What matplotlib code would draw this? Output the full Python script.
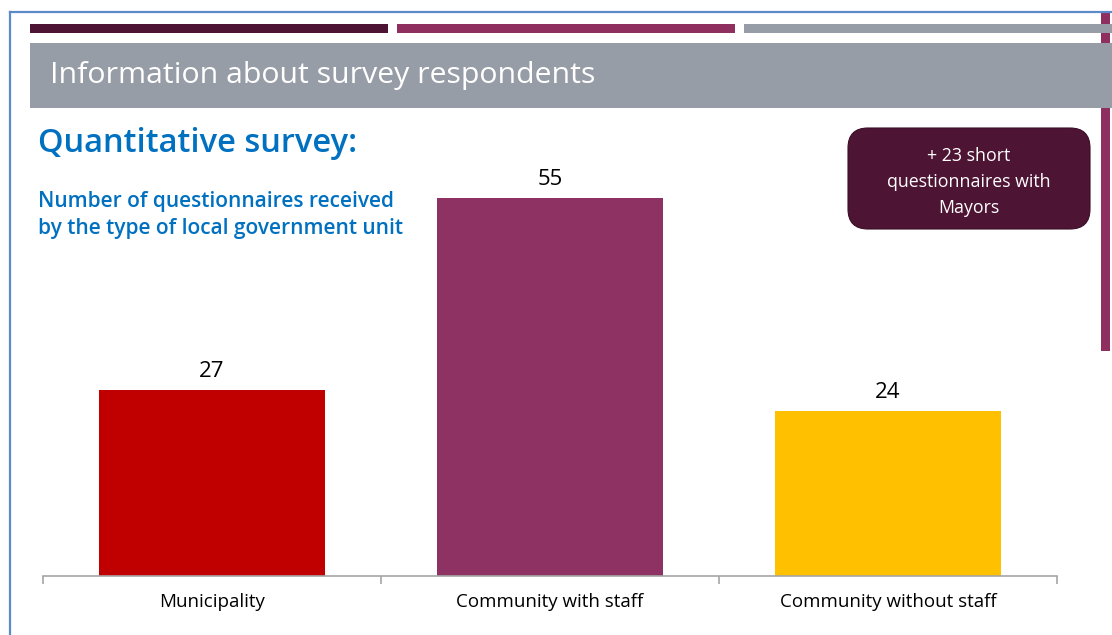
import matplotlib.pyplot as plt
from matplotlib.patches import Rectangle, FancyBboxPatch
from matplotlib.lines import Line2D

categories = ["Municipality", "Community with staff", "Community without staff"]
counts = [27, 55, 24]
bar_colors = ["#C00000", "#8E3163", "#FFC000"]

title_text = "Information about survey respondents"
heading = "Quantitative survey:"
subheading = "Number of questionnaires received\nby the type of local government unit"
note = "+ 23 short\nquestionnaires with\nMayors"

plt.rcParams['font.family'] = ['Open Sans', 'DejaVu Sans']

W, H = 1112, 635
fig = plt.figure(figsize=(W / 100, H / 100), dpi=100)
fig.patch.set_facecolor("white")


def px_rect(x0, y0, x1, y1, color, z=1):
    # rectangle given in pixel coords measured from the top-left corner
    fig.add_artist(Rectangle((x0 / W, 1 - y1 / H), (x1 - x0) / W, (y1 - y0) / H,
                             transform=fig.transFigure, facecolor=color,
                             edgecolor="none", zorder=z))


# slide frame
fig.add_artist(Line2D([9.5 / W, 9.5 / W], [0, 1 - 12 / H], transform=fig.transFigure,
                      color="#5B8BC9", lw=1.6))
fig.add_artist(Line2D([9.5 / W, 1], [1 - 12 / H, 1 - 12 / H], transform=fig.transFigure,
                      color="#5B8BC9", lw=1.6))

# decorative stripes and title band
px_rect(1101, 13, 1110, 351, "#8E2F60", z=0.5)
px_rect(30, 24, 388, 33, "#4E1433")
px_rect(397, 24, 735, 33, "#8E2F60")
px_rect(744, 24, 1112, 33, "#979DA6")
px_rect(30, 43, 1112, 108, "#979DA6")

fig.text(50 / W, 1 - 75 / H, title_text, color="white", fontsize=21.8,
         va="center", ha="left")
fig.text(38 / W, 1 - 144 / H, heading, color="#0070C0", fontsize=23.5,
         fontweight="semibold", va="center", ha="left")
fig.text(38 / W, 1 - 215 / H, subheading, color="#0070C0", fontsize=15,
         fontweight="semibold", va="center", ha="left", linespacing=1.4)

# note box
box = FancyBboxPatch((848 / W, 1 - 229 / H), 242 / W, 101 / H,
                     boxstyle="round,pad=0,rounding_size=0.018",
                     transform=fig.transFigure, facecolor="#4E1433",
                     edgecolor="#3A0E26", lw=0.8, mutation_aspect=W / H)
fig.add_artist(box)
fig.text(969 / W, 1 - 182 / H, note, color="white", fontsize=12.8,
         ha="center", va="center", linespacing=1.55)

# bar chart
ax_top = 150
ax = fig.add_axes([43 / W, (H - 576) / H, 1014 / W, (576 - ax_top) / H])
scale = (576 - 198) / 55
x = range(len(categories))
bars = ax.bar(x, counts, width=0.669, color=bar_colors)
ax.set_xlim(-0.5, 2.5)
ax.set_ylim(0, (576 - ax_top) / scale)
for b, v in zip(bars, counts):
    ax.text(b.get_x() + b.get_width() / 2, v + 1.2, str(v), ha="center",
            va="bottom", fontsize=16, color="black")

for s in ["top", "right", "left"]:
    ax.spines[s].set_visible(False)
ax.spines["bottom"].set_color("#A6A6A6")
ax.spines["bottom"].set_linewidth(1.2)
ax.set_yticks([])
ax.set_xticks([-0.5, 0.5, 1.5, 2.5])
ax.set_xticklabels([])
ax.set_xticks(list(x), minor=True)
ax.set_xticklabels(categories, minor=True, fontsize=13.5)
ax.tick_params(axis="x", which="major", length=6, color="#A6A6A6", width=1.2)
ax.tick_params(axis="x", which="minor", length=0, pad=12)
ax.patch.set_alpha(0)

fig.savefig("out.png", dpi=100)
